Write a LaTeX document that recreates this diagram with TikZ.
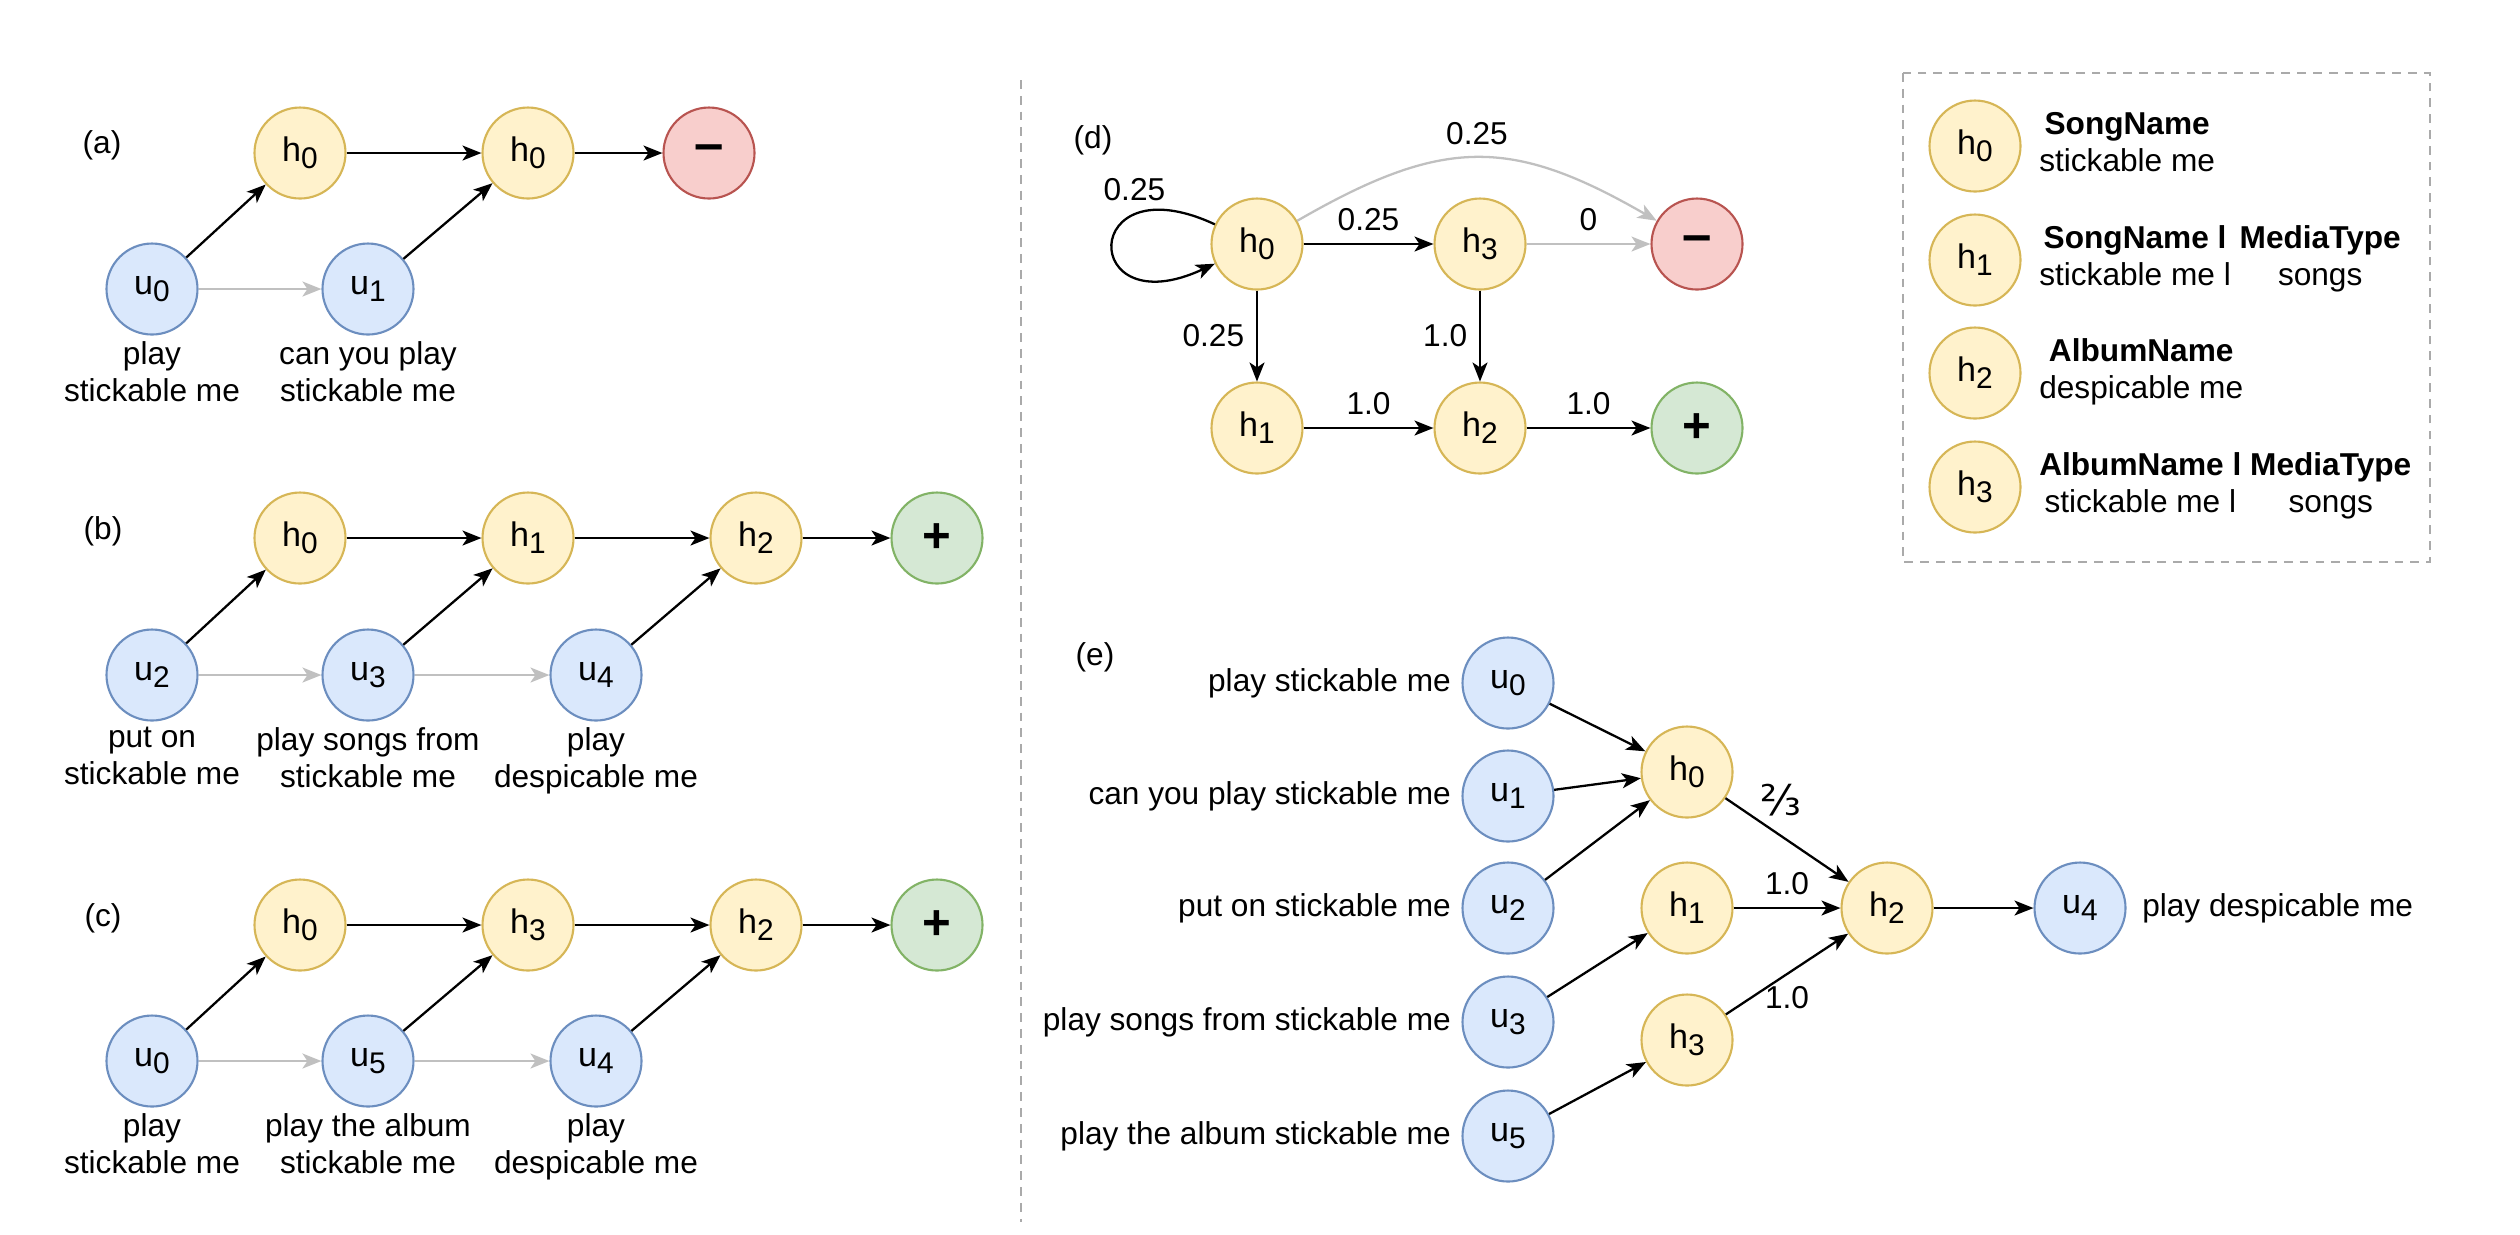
\documentclass[tikz,border=0pt]{standalone}
\usepackage{fontspec}
\setmainfont{Liberation Sans}
\newfontfamily\fracfont{DejaVu Sans}
\usepackage{xcolor}
\usetikzlibrary{arrows.meta,positioning}
\definecolor{hypfill}{RGB}{255,242,204}
\definecolor{hypline}{RGB}{214,182,86}
\definecolor{uttfill}{RGB}{218,232,252}
\definecolor{uttline}{RGB}{108,142,191}
\definecolor{negfill}{RGB}{248,206,204}
\definecolor{negline}{RGB}{184,84,80}
\definecolor{posfill}{RGB}{213,232,212}
\definecolor{posline}{RGB}{130,179,102}
\definecolor{arrgray}{RGB}{192,192,192}
\definecolor{dashgray}{RGB}{170,170,170}
\newcommand{\nsub}[2]{#1\raisebox{-2pt}{\fontsize{8.5}{9}\selectfont #2}}

\begin{document}
\begin{tikzpicture}[
	hyp/.style={draw=hypline, fill=hypfill, circle, minimum size=9.1mm, inner sep=0pt, line width=0.6pt, font=\fontsize{9.7}{11}\selectfont},
	utt/.style={hyp, draw=uttline, fill=uttfill},
	negnode/.style={hyp, draw=negline, fill=negfill, font=\fontsize{15}{15}\selectfont\bfseries},
	posnode/.style={hyp, draw=posline, fill=posfill, font=\fontsize{14}{14}\selectfont\bfseries},
	arr/.style={-{Stealth[length=1.9mm,width=1.5mm,inset=0.5mm]}, line width=0.65pt},
	garr/.style={arr, draw=arrgray},
	txt/.style={font=\fontsize{9}{10.5}\selectfont, inner sep=0pt, align=center},
	wt/.style={font=\fontsize{9}{10.5}\selectfont},
	sep/.style={draw=dashgray, line width=0.6pt, dash pattern=on 2.5pt off 2pt}
	]
				\useasboundingbox (0,0) rectangle (25.2,-12.34);
				
				% Panel (a)
				\node[txt] (la) at (1.02,-1.45) {(a)};
				\node[hyp] (ah0) at (3.00,-1.53) {\nsub{h}{0}};
				\node[hyp] (ah0b) at (5.28,-1.53) {\nsub{h}{0}};
				\node[negnode] (amin) at (7.09,-1.53) {\textendash};
				\node[utt] (au0) at (1.52,-2.89) {\nsub{u}{0}};
				\node[utt] (au1) at (3.68,-2.89) {\nsub{u}{1}};
				\node[txt, below=0.5mm of au0] (tau0) {play\\stickable me};
				\node[txt, below=0.5mm of au1] (tau1) {can you play\\stickable me};
				
				\draw[arr] (au0) -- (ah0);
				\draw[arr] (au1) -- (ah0b);
				\draw[arr] (ah0) -- (ah0b);
				\draw[arr] (ah0b) -- (amin);
				\draw[garr] (au0) -- (au1);
				
				% Panel (b)
				\node[txt] (lb) at (1.03,-5.31) {(b)};
				\node[hyp] (bh0) at (3.00,-5.38) {\nsub{h}{0}};
				\node[hyp] (bh1) at (5.28,-5.38) {\nsub{h}{1}};
				\node[hyp] (bh2) at (7.56,-5.38) {\nsub{h}{2}};
				\node[posnode] (bplus) at (9.37,-5.38) {+};
				\node[utt] (bu2) at (1.52,-6.75) {\nsub{u}{2}};
				\node[utt] (bu3) at (3.68,-6.75) {\nsub{u}{3}};
				\node[utt] (bu4) at (5.96,-6.75) {\nsub{u}{4}};
				\node[txt, below=0.5mm of bu2] (tbu2) {put on\\stickable me};
				\node[txt, below=0.5mm of bu3] (tbu3) {play songs from\\stickable me};
				\node[txt, below=0.5mm of bu4] (tbu4) {play\\despicable me};
				
				\draw[arr] (bu2) -- (bh0);
				\draw[arr] (bu3) -- (bh1);
				\draw[arr] (bu4) -- (bh2);
				\draw[arr] (bh0) -- (bh1);
				\draw[arr] (bh1) -- (bh2);
				\draw[arr] (bh2) -- (bplus);
				\draw[garr] (bu2) -- (bu3);
				\draw[garr] (bu3) -- (bu4);
				
				% Panel (c)
				\node[txt] (lc) at (1.03,-9.18) {(c)};
				\node[hyp] (ch0) at (3.00,-9.25) {\nsub{h}{0}};
				\node[hyp] (ch3) at (5.28,-9.25) {\nsub{h}{3}};
				\node[hyp] (ch2) at (7.56,-9.25) {\nsub{h}{2}};
				\node[posnode] (cplus) at (9.37,-9.25) {+};
				\node[utt] (cu0) at (1.52,-10.61) {\nsub{u}{0}};
				\node[utt] (cu5) at (3.68,-10.61) {\nsub{u}{5}};
				\node[utt] (cu4) at (5.96,-10.61) {\nsub{u}{4}};
				\node[txt, below=0.5mm of cu0] (tcu0) {play\\stickable me};
				\node[txt, below=0.5mm of cu5] (tcu5) {play the album\\stickable me};
				\node[txt, below=0.5mm of cu4] (tcu4) {play\\despicable me};
				
				\draw[arr] (cu0) -- (ch0);
				\draw[arr] (cu5) -- (ch3);
				\draw[arr] (cu4) -- (ch2);
				\draw[arr] (ch0) -- (ch3);
				\draw[arr] (ch3) -- (ch2);
				\draw[arr] (ch2) -- (cplus);
				\draw[garr] (cu0) -- (cu5);
				\draw[garr] (cu5) -- (cu4);
				
				% Separator
				\draw[sep] (10.21,-0.80) -- (10.21,-12.22);
				
				% Panel (d)
				\node[txt] (ld) at (10.93,-1.40) {(d)};
				\node[hyp] (dh0) at (12.57,-2.44) {\nsub{h}{0}};
				\node[hyp] (dh3) at (14.80,-2.44) {\nsub{h}{3}};
				\node[negnode] (dmin) at (16.97,-2.44) {\textendash};
				\node[hyp] (dh1) at (12.57,-4.28) {\nsub{h}{1}};
				\node[hyp] (dh2) at (14.80,-4.28) {\nsub{h}{2}};
				\node[posnode] (dplus) at (16.97,-4.28) {+};
				
				\draw[arr] (dh0) to[out=155, in=205, distance=1.5cm] node[wt, above, pos=0.27] {0.25} (dh0);
				\draw[garr] (dh0) to[out=30, in=150, looseness=1.2] node[wt, above] {0.25} (dmin);
				\draw[arr] (dh0) -- node[wt, above] {0.25} (dh3);
				\draw[garr] (dh3) -- node[wt, above] {0} (dmin);
				\draw[arr] (dh0) -- node[wt, left] {0.25} (dh1);
				\draw[arr] (dh3) -- node[wt, left] {1.0} (dh2);
				\draw[arr] (dh1) -- node[wt, above] {1.0} (dh2);
				\draw[arr] (dh2) -- node[wt, above] {1.0} (dplus);
				
				% Legend
				\draw[sep] (19.03,-0.73) rectangle (24.30,-5.62);
				\node[hyp] (lh0) at (19.75,-1.46) {\nsub{h}{0}};
				\node[hyp] (lh1) at (19.75,-2.60) {\nsub{h}{1}};
				\node[hyp] (lh2) at (19.75,-3.73) {\nsub{h}{2}};
				\node[hyp] (lh3) at (19.75,-4.87) {\nsub{h}{3}};
				\node[txt, right=1.7mm of lh0] (tlh0) {\begin{tabular}{@{}c@{}}\textbf{SongName}\\stickable me\end{tabular}};
				\node[txt, right=1.7mm of lh1] (tlh1) {\begin{tabular}{@{}c@{ }c@{}}\textbf{SongName l} & \textbf{MediaType}\\stickable me l & songs\end{tabular}};
				\node[txt, right=1.7mm of lh2] (tlh2) {\begin{tabular}{@{}c@{}}\textbf{AlbumName}\\despicable me\end{tabular}};
				\node[txt, right=1.7mm of lh3] (tlh3) {\begin{tabular}{@{}c@{ }c@{}}\textbf{AlbumName l} & \textbf{MediaType}\\stickable me l & songs\end{tabular}};
				
				% Panel (e)
				\node[txt] (le) at (10.95,-6.57) {(e)};
				\node[utt] (eu0) at (15.08,-6.83) {\nsub{u}{0}};
				\node[utt] (eu1) at (15.08,-7.96) {\nsub{u}{1}};
				\node[utt] (eu2) at (15.08,-9.08) {\nsub{u}{2}};
				\node[utt] (eu3) at (15.08,-10.22) {\nsub{u}{3}};
				\node[utt] (eu5) at (15.08,-11.36) {\nsub{u}{5}};
				\node[hyp] (eh0) at (16.87,-7.72) {\nsub{h}{0}};
				\node[hyp] (eh1) at (16.87,-9.08) {\nsub{h}{1}};
				\node[hyp] (eh3) at (16.87,-10.40) {\nsub{h}{3}};
				\node[hyp] (eh2) at (18.87,-9.08) {\nsub{h}{2}};
				\node[utt] (eu4) at (20.80,-9.08) {\nsub{u}{4}};
				\node[txt, left=1mm of eu0] (teu0) {play stickable me};
				\node[txt, left=1mm of eu1] (teu1) {can you play stickable me};
				\node[txt, left=1mm of eu2] (teu2) {put on stickable me};
				\node[txt, left=1mm of eu3] (teu3) {play songs from stickable me};
				\node[txt, left=1mm of eu5] (teu5) {play the album stickable me};
				\node[txt, right=1.5mm of eu4] (teu4) {play despicable me};
				
				\draw[arr] (eu0) -- (eh0);
				\draw[arr] (eu1) -- (eh0);
				\draw[arr] (eu2) -- (eh0);
				\draw[arr] (eu3) -- (eh1);
				\draw[arr] (eu5) -- (eh3);
				\draw[arr] (eh0) -- node[above=2pt, pos=0.45, font=\fracfont\fontsize{12}{12}\selectfont] {⅔} (eh2);
				\draw[arr] (eh1) -- node[wt, above] {1.0} (eh2);
				\draw[arr] (eh3) -- node[wt, below] {1.0} (eh2);
				\draw[arr] (eh2) -- (eu4);
\end{tikzpicture}
\end{document}
